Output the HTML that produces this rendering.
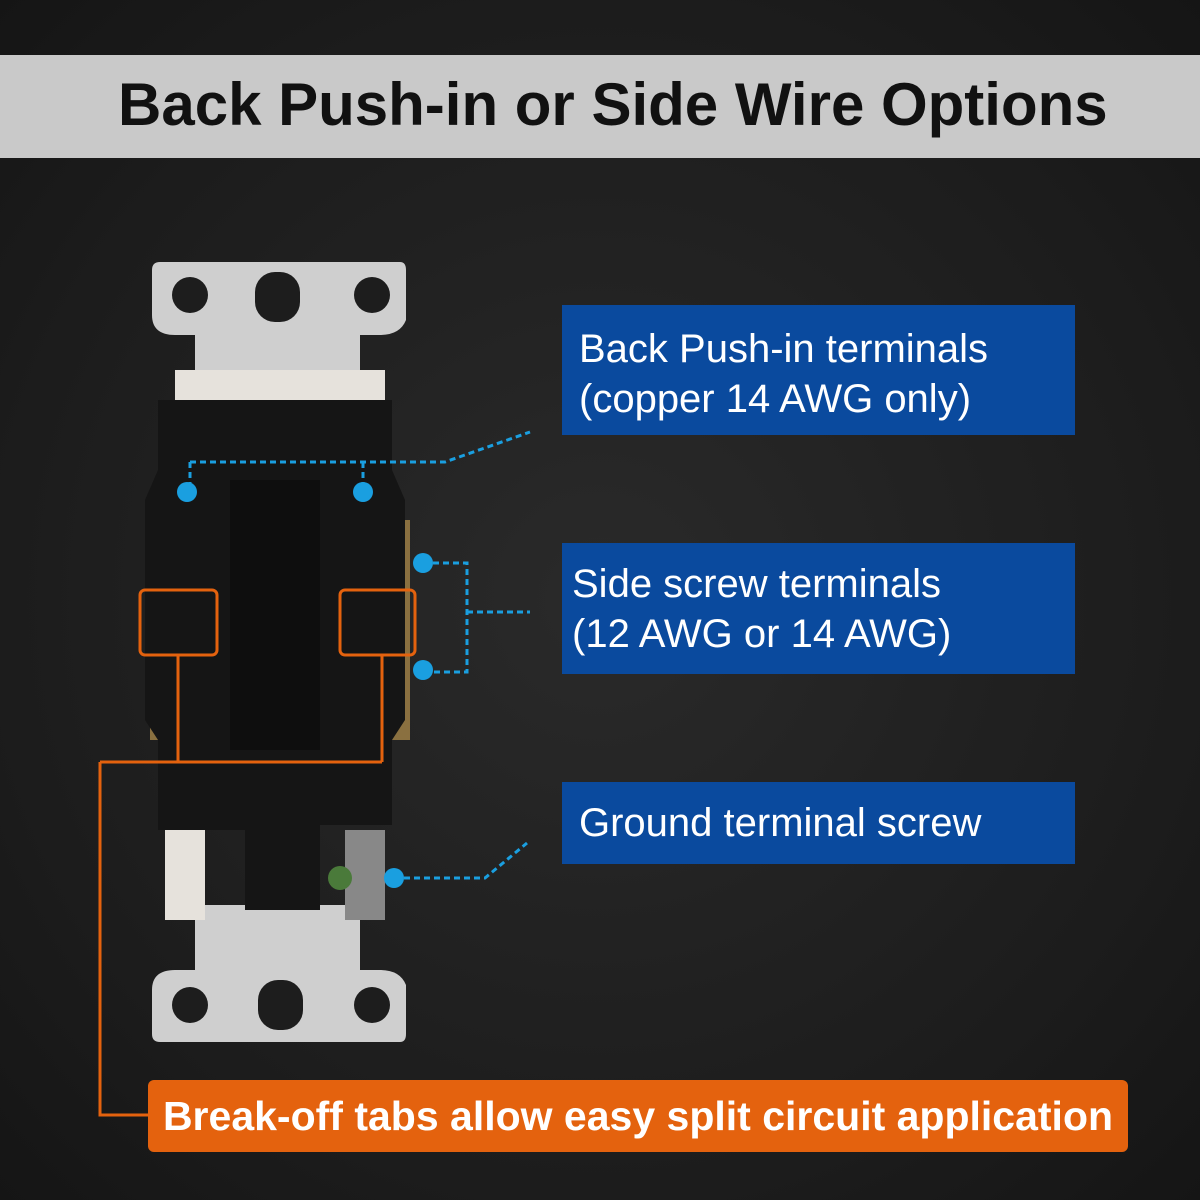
<!DOCTYPE html>
<html><head><meta charset="utf-8"><style>
html,body{margin:0;padding:0}
body{width:1200px;height:1200px;overflow:hidden;background:radial-gradient(ellipse at 50% 50%,#2a2a2a 0%,#1c1c1c 70%,#151515 100%);font-family:"Liberation Sans",sans-serif;position:relative}
.title{position:absolute;left:0;top:55px;width:1200px;height:103px;background:#c9c9c9;}
.title span{position:absolute;left:118px;top:15px;font-size:60px;font-weight:bold;color:#111;transform:scaleX(1.0);transform-origin:left;white-space:nowrap}
.box{position:absolute;left:562px;width:513px;background:#0a4a9e;color:#fff;font-size:40px;line-height:50px;white-space:nowrap}
.orange{position:absolute;left:148px;top:1080px;width:980px;height:72px;background:#e4620e;border-radius:6px;color:#fff;font-weight:bold;font-size:41px;line-height:72px;text-align:center;white-space:nowrap}
svg{position:absolute;left:0;top:0}
</style></head><body>
<div class="title"><span style="transform:scaleX(1.0)">Back Push-in or Side Wire Options</span></div>
<div class="box" style="top:305px;height:130px"><div style="padding:19px 0 0 17px">Back Push-in terminals<br>(copper 14 AWG only)</div></div>
<div class="box" style="top:543px;height:131px"><div style="padding:16px 0 0 10px">Side screw terminals<br>(12 AWG or 14 AWG)</div></div>
<div class="box" style="top:782px;height:82px"><div style="padding:16px 0 0 17px">Ground terminal screw</div></div>
<div class="orange">Break-off tabs allow easy split circuit application</div>
<svg width="1200" height="1200">
<path d="M155 262 H400 Q406 262 406 270 V320 Q400 335 380 335 H360 V395 H195 V335 H175 Q152 335 152 315 V270 Q152 262 160 262Z" fill="#cfcfcf"/>
<circle cx="190" cy="295" r="18" fill="#1d1d1d"/><circle cx="372" cy="295" r="18" fill="#1d1d1d"/>
<rect x="255" y="272" width="45" height="50" rx="20" fill="#1d1d1d"/>
<path d="M155 1042 H400 Q406 1042 406 1034 V985 Q400 970 380 970 H360 V905 H195 V970 H175 Q152 970 152 990 V1034 Q152 1042 160 1042Z" fill="#cfcfcf"/>
<circle cx="190" cy="1005" r="18" fill="#1d1d1d"/><circle cx="372" cy="1005" r="18" fill="#1d1d1d"/>
<rect x="258" y="980" width="45" height="50" rx="20" fill="#1d1d1d"/>
<rect x="175" y="370" width="210" height="30" fill="#e6e2dc"/>
<rect x="165" y="820" width="40" height="100" fill="#e6e2dc"/>
<rect x="150" y="520" width="30" height="220" fill="#8a7040"/>
<rect x="380" y="520" width="30" height="220" fill="#8a7040"/>
<path d="M158 400 H392 V470 L405 500 V720 L392 740 V825 H320 V910 H245 V830 H158 V740 L145 720 V500 L158 470Z" fill="#151515"/>
<rect x="230" y="480" width="90" height="270" fill="#0e0e0e"/>
<rect x="345" y="830" width="40" height="90" fill="#888"/>
<circle cx="340" cy="878" r="12" fill="#4a7a3a"/>
<g stroke="#1a9fe0" stroke-width="3" stroke-dasharray="6,4" fill="none">
<path d="M190 462 H445 L530 432"/>
<path d="M190 462 V492 M363 462 V492"/>
<path d="M423 563 H467 V672 H423 M467 612 H530"/>
<path d="M394 878 H485 L527 843"/>
</g>
<g fill="#1a9fe0"><circle cx="187" cy="492" r="10"/><circle cx="363" cy="492" r="10"/><circle cx="423" cy="563" r="10"/><circle cx="423" cy="670" r="10"/><circle cx="394" cy="878" r="10"/></g>
<g stroke="#e4620e" stroke-width="3" fill="none">
<rect x="140" y="590" width="77" height="65" rx="5"/>
<rect x="340" y="590" width="75" height="65" rx="5"/>
<path d="M178 655 V762 M382 655 V762 M100 762 H382 M100 762 V1115 H148"/>
</g>
</svg>
</body></html>
